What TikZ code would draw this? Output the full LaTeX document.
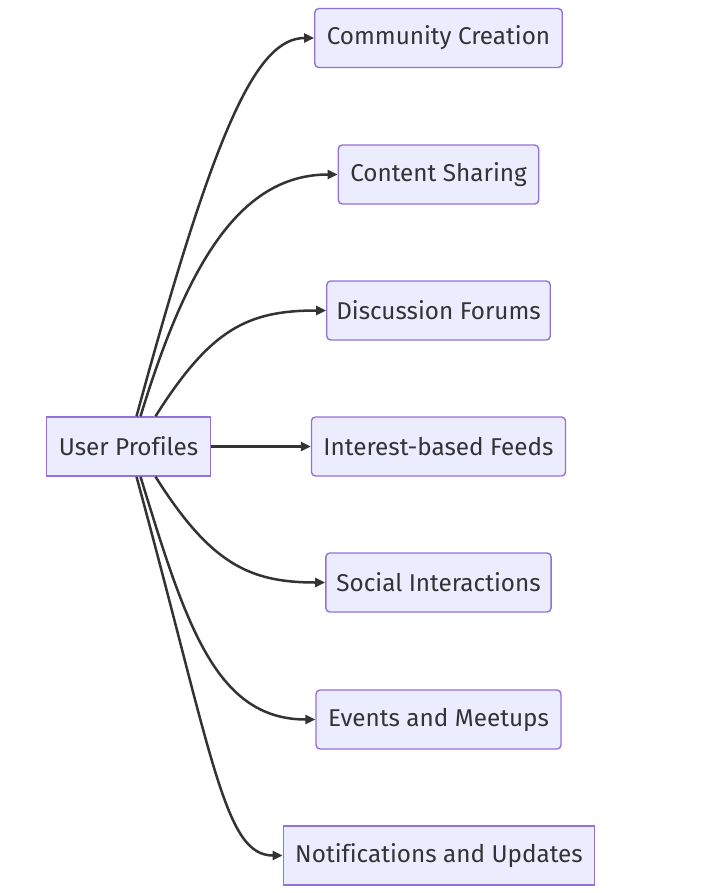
\documentclass[tikz,border=0pt]{standalone}
\usepackage{fontspec}
\setmainfont{Fira Sans}[Ligatures=CommonOff]
\usepackage{xcolor}
\usetikzlibrary{arrows.meta,positioning}
\definecolor{boxfill}{HTML}{ECECFF}
\definecolor{boxline}{HTML}{9370DB}
\definecolor{inkgray}{HTML}{333333}

\begin{document}
\begin{tikzpicture}[
  x=1pt,y=-1pt,
  box/.style={draw=boxline,fill=boxfill,line width=1.4pt,rounded corners=4pt,minimum height=59pt,inner xsep=12pt,text=inkgray,font=\fontsize{24.3}{28}\selectfont},
  sqbox/.style={box,rounded corners=0pt},
  arrow/.style={-{Triangle[length=10pt,width=9pt]},line width=2.5pt,draw=inkgray}
]
\useasboundingbox (0,0) rectangle (725,893);
\node[sqbox] (profiles) at (128.5,446.5) {User Profiles};
\node[box] (community) at (438.5,38) {Community Creation};
\node[box] (sharing) at (438.5,174.5) {Content Sharing};
\node[box,inner xsep=9.5pt] (forums) at (438.5,310.5) {Discussion Forums};
\node[box] (feeds) at (438.5,446.5) {Interest-based Feeds};
\node[box,inner xsep=10.5pt] (social) at (438.5,582.5) {Social Interactions};
\node[box] (events) at (438.5,719.5) {Events and Meetups};
\node[sqbox] (notify) at (439,855.5) {Notifications and Updates};
% upper branches
\draw[arrow] ([xshift=8pt]profiles.north) .. controls +(78,-287) and +(-58,0) .. (community.west);
\draw[arrow] ([xshift=12pt]profiles.north) .. controls +(45,-147) and +(-100,0) .. (sharing.west);
\draw[arrow] ([xshift=27pt]profiles.north) .. controls +(55,-87) and +(-79,0) .. (forums.west);
\draw[arrow] (profiles) -- (feeds);
% lower branches
\draw[arrow] ([xshift=27pt]profiles.south) .. controls +(55,87) and +(-76,0) .. (social.west);
\draw[arrow] ([xshift=12pt]profiles.south) .. controls +(45,147) and +(-100,0) .. (events.west);
\draw[arrow] ([xshift=8pt]profiles.south) .. controls +(78,287) and +(-58,0) .. (notify.west);
\end{tikzpicture}
\end{document}
